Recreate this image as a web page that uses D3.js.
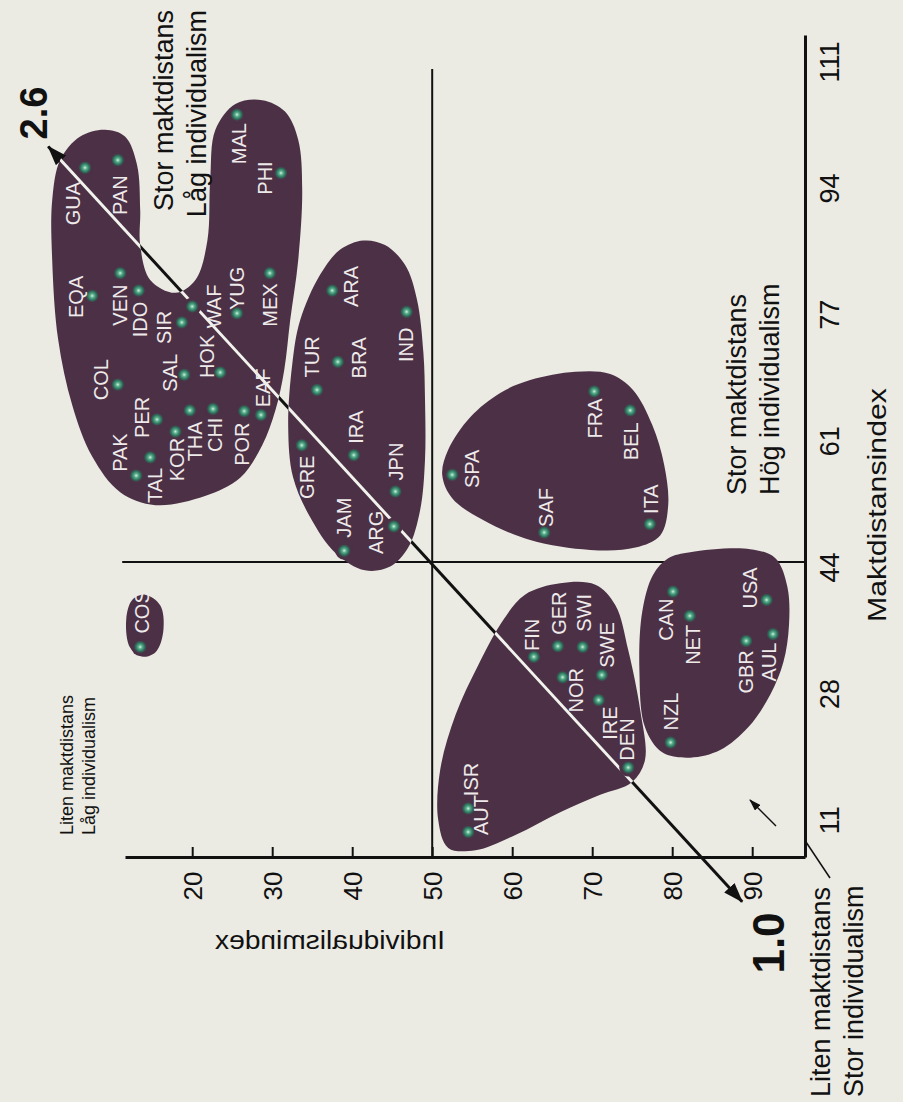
<!DOCTYPE html>
<html>
<head>
<meta charset="utf-8">
<script src="https://cdn.jsdelivr.net/npm/d3@7"></script>
<style>
  body { margin: 0; background: #ebeae3; }
  svg { display: block; }
</style>
</head>
<body>
<svg id="chart" width="903" height="1102"></svg>
<script>
// --- data (individualismindex, maktdistansindex) ---
const countries = ["MAL","PHI","GUA","PAN","EQA","VEN","IDO","SIR","WAF","YUG","MEX","HOK","SAL","COL","PER","PAK","TAL","KOR","THA","CHI","POR","EAF",
                   "ARA","IND","BRA","TUR","GRE","IRA","JPN","ARG","JAM",
                   "SPA","FRA","BEL","SAF","ITA",
                   "FIN","GER","SWI","NOR","SWE","IRE","DEN","ISR","AUT",
                   "CAN","NET","USA","GBR","AUL","NZL","COS"]
const individualism = [25.6,31.1,6.6,10.7,7.5,11,13.3,18.7,20,25.6,29.7,23.5,19,10.7,15.6,13,14.75,17.9,19.7,22.6,26.5,28.6,
                       37.5,46.8,38.2,35.6,33.7,40.2,45.4,45.2,39,
                       52.5,70.25,74.75,64,77.2,
                       62.7,65.7,68.8,66.3,71.2,70.8,74.5,54.5,54.5,
                       80.1,82.2,91.8,89.25,92.6,79.8,13.5]
const maktdistans = [104,96.3,97,98,80.1,83.1,80.8,76.6,78.7,77.8,83.1,70,69.7,68.4,63.8,56.4,58.8,62.2,65,65.2,64.9,64.4,
                     80.8,78,71.4,67.7,60.4,59.1,54.3,49.7,46.5,
                     56.5,67.5,65,48.9,50,
                     32.5,33.9,33.8,29.8,30.1,26.8,17.9,12.5,9.4,
                     41.1,37.9,40,34.6,35.5,21.2,33.8]

// cluster outlines, [individualism, maktdistans]
const clusterLatinAsia = [[3.5,98],[6,101.1],[9.1,102],[11.6,101.1],[13.1,97.4],[13.5,91.4],[13.5,86.8],[14.75,82.2],[17.9,80.5],[20.4,82.2],
                          [21.9,87.4],[22.25,95.4],[22.9,102],[25.4,105.4],[28.75,105.9],[31.6,104.4],[33.25,100.7],[33.75,94.1],[33.25,84.8],
                          [32.25,76.9],[31.5,70.3],[30.4,65],[28.75,60.4],[26,56.1],[21.6,53.7],[15.4,52.5],[11,54.2],[7.5,58.9],[5,65.7],
                          [3.25,74.3],[2.5,84.8],[2.5,92.7]]
const clusterMiddle = [[41.4,87.4],[44.1,86.8],[46.6,84.2],[48.1,79.6],[48.9,72.6],[49.1,66.4],[49.1,58.5],[48.5,51.9],[47,46.9],[44.75,44.4],
                       [41.6,43.9],[37.9,46.2],[34.75,50.9],[32.6,56.2],[32,62.8],[32.5,71],[33.5,76.9],[36,82.9],[38.5,86.2]]
const clusterLatinEurope = [[62.25,69],[67.9,70.1],[72.25,69.8],[75.1,67.7],[77.5,63.1],[79,57.8],[79.5,52.5],[78.5,48.5],[75.4,46.9],[69.75,46.6],
                            [62.25,47.9],[56.25,50.6],[52.5,53.4],[51.25,56.5],[52,59.8],[54.75,64.1],[58.5,67.3]]
const clusterNordic = [[66,42.2],[70.4,42],[72.9,39.3],[74.5,33.4],[76,25.5],[76.6,18.9],[75,16],[71,14.3],[66,12],[60.4,9],[55.4,7],[52,7.3],
                       [50.75,11],[51,17.6],[52.9,24.8],[55.75,31.4],[58.9,37.4],[61.6,40.7]]
const clusterAnglo = [[82.25,46.3],[89.75,46.7],[92.9,45.5],[94.4,41.7],[94.6,36.7],[93.9,31.8],[92.25,27.5],[89.5,23.2],[86,20.2],[82.25,19.2],
                      [78.75,19.9],[76.6,23.2],[75.9,30.7],[76.25,38.4],[77.6,43.3],[79.5,45.5]]
const clusterCos = [[14.1,40.7],[16,39.3],[16.4,36],[15.5,33.2],[13.9,32.5],[12.25,33.7],[11.75,37.4],[12.5,40]]

const diagonal = [[2, 99.8], [88.75, 0.2]]          // 2.6 -> 1.0
const diagonalLabels = ["2.6", "1.0"]

const indivTicks = [20, 30, 40, 50, 60, 70, 80, 90]
const maktTicks = [11, 27.67, 44.33, 61, 77.67, 94.33, 111]
const maktTickLabels = ["11", "28", "44", "61", "77", "94", "111"]
const indivSplit = 50
const maktSplit = 45

// label offsets (px) from dot, in the rotated page
const labelOffset = {
  MAL:[2,29], PHI:[-16,5], GUA:[-12,36], PAN:[2,35], EQA:[-16,1], VEN:[0,32], IDO:[1,29], SIR:[-18,5], WAF:[22,0], YUG:[0,-25],
  MEX:[0,32], HOK:[-13,-16], SAL:[-14,-2], COL:[-17,-5], PER:[-15,-2], PAK:[-16,-23], TAL:[5,28], KOR:[1,28], THA:[5,31], CHI:[2,26],
  POR:[-2,33], EAF:[2,-27], ARA:[19,-4], IND:[-1,33], BRA:[21,-4], TUR:[-5,-33], GRE:[5,32], IRA:[2,-28], JPN:[0,-30], ARG:[-18,6],
  JAM:[0,-33], SPA:[20,-6], FRA:[1,27], BEL:[1,31], SAF:[2,-25], ITA:[1,-25], FIN:[-2,-22], GER:[1,-33], SWI:[1,-34], NOR:[13,13],
  SWE:[5,-30], IRE:[11,23], DEN:[-1,-28], ISR:[3,-29], AUT:[13,-17], CAN:[-7,28], NET:[3,29], USA:[-17,-12], GBR:[0,31], AUL:[-4,28],
  NZL:[0,-31], COS:[2,-35]
}

const blobColor = "#4b3046"
const sans = "'Liberation Sans', Arial, sans-serif"
const narrow = "'Liberation Sans Narrow', 'Liberation Sans', Arial, sans-serif"

// the page is photographed rotated: individualism runs left->right, maktdistans bottom->top
var x = d3.scaleLinear().domain([11.6, 96.6]).range([125, 805])
var y = d3.scaleLinear().domain([6.1, 114.5]).range([857, 35])

var svg = d3.select("#chart")
var defs = svg.append("defs")

var grad = defs.append("radialGradient").attr("id", "dot")
grad.append("stop").attr("offset", "0%").attr("stop-color", "#d4f2e2")
grad.append("stop").attr("offset", "30%").attr("stop-color", "#5cb08f")
grad.append("stop").attr("offset", "70%").attr("stop-color", "#2b6f5a")
grad.append("stop").attr("offset", "100%").attr("stop-color", "#2b6f5a").attr("stop-opacity", 0)

defs.append("marker")
    .attr("id", "arrow")
    .attr("viewBox", "0 0 20 14")
    .attr("refX", 19).attr("refY", 7)
    .attr("markerWidth", 20).attr("markerHeight", 14)
    .attr("markerUnits", "userSpaceOnUse")
    .attr("orient", "auto-start-reverse")
  .append("path").attr("d", "M0,0 L20,7 L0,14 Z").attr("fill", "#111")

defs.append("marker")
    .attr("id", "smallArrow")
    .attr("viewBox", "0 0 12 8")
    .attr("refX", 11).attr("refY", 4)
    .attr("markerWidth", 12).attr("markerHeight", 8)
    .attr("markerUnits", "userSpaceOnUse")
    .attr("orient", "auto")
  .append("path").attr("d", "M0,0 L12,4 L0,8 Z").attr("fill", "#111")

var blobLine = d3.line()
    .x(d => x(d[0]))
    .y(d => y(d[1]))
    .curve(d3.curveCatmullRomClosed.alpha(0.5))

var clusters = [clusterLatinAsia, clusterMiddle, clusterLatinEurope, clusterNordic, clusterAnglo, clusterCos]

// split lines behind the clusters
svg.append("line")
    .attr("x1", x(indivSplit)).attr("x2", x(indivSplit))
    .attr("y1", y(110)).attr("y2", y(6.1))
    .attr("stroke", "#111").attr("stroke-width", 2)
svg.append("line")
    .attr("x1", x(11.25)).attr("x2", x(96.6))
    .attr("y1", y(maktSplit)).attr("y2", y(maktSplit))
    .attr("stroke", "#111").attr("stroke-width", 2)

svg.append("g").selectAll("path")
  .data(clusters)
  .join("path")
    .attr("d", blobLine)
    .attr("fill", blobColor)

var clip = defs.append("clipPath").attr("id", "inside")
clip.selectAll("path").data(clusters).join("path").attr("d", blobLine)

// diagonal axis: black outside, white inside clusters
svg.append("line")
    .attr("x1", x(diagonal[0][0])).attr("y1", y(diagonal[0][1]))
    .attr("x2", x(diagonal[1][0])).attr("y2", y(diagonal[1][1]))
    .attr("stroke", "#111").attr("stroke-width", 3)
    .attr("marker-start", "url(#arrow)").attr("marker-end", "url(#arrow)")
svg.append("line")
    .attr("clip-path", "url(#inside)")
    .attr("x1", x(diagonal[0][0])).attr("y1", y(diagonal[0][1]))
    .attr("x2", x(diagonal[1][0])).attr("y2", y(diagonal[1][1]))
    .attr("stroke", "#f4f2ee").attr("stroke-width", 3)

var pts = countries.map((c, i) => ({ code: c, ind: individualism[i], mak: maktdistans[i] }))

svg.append("g").selectAll("circle")
  .data(pts)
  .join("circle")
    .attr("cx", d => x(d.ind)).attr("cy", d => y(d.mak))
    .attr("r", 9).attr("fill", blobColor)

svg.append("g").selectAll("circle")
  .data(pts)
  .join("circle")
    .attr("cx", d => x(d.ind)).attr("cy", d => y(d.mak))
    .attr("r", 6.5).attr("fill", "url(#dot)")

svg.append("g").selectAll("text")
  .data(pts)
  .join("text")
    .attr("transform", d => {
      const o = labelOffset[d.code]
      return `translate(${x(d.ind) + o[0]},${y(d.mak) + o[1]}) rotate(-90)`
    })
    .attr("text-anchor", "middle")
    .attr("dy", "0.36em")
    .attr("fill", "#eeeaea")
    .attr("font-family", sans)
    .attr("font-size", "20px")
    .text(d => d.code)

// axes
var indivAxis = d3.axisBottom(x)
    .tickValues(indivTicks)
    .tickSizeInner(-10)
    .tickSizeOuter(0)
    .tickPadding(0)

var gx = svg.append("g")
    .attr("transform", "translate(0," + y(6.1) + ")")
    .call(indivAxis)
gx.select(".domain").attr("stroke", "#111").attr("stroke-width", 3)
gx.selectAll(".tick line").attr("stroke", "#111").attr("stroke-width", 2)
gx.selectAll(".tick text")
    .attr("y", null).attr("dy", null)
    .attr("transform", "translate(0,29) rotate(-90)")
    .attr("text-anchor", "middle")
    .attr("dy", "0.36em")
    .attr("font-family", sans)
    .attr("font-size", "26px")
    .attr("fill", "#111")

var maktAxis = d3.axisRight(y)
    .tickValues(maktTicks)
    .tickFormat((d, i) => maktTickLabels[i])
    .tickSize(0)
    .tickPadding(0)

var gy = svg.append("g")
    .attr("transform", "translate(" + x(96.6) + ",0)")
    .call(maktAxis)
gy.select(".domain").attr("stroke", "#111").attr("stroke-width", 3)
gy.selectAll(".tick text")
    .attr("x", null).attr("dy", null)
    .attr("transform", "translate(24,0) rotate(-90)")
    .attr("text-anchor", "middle")
    .attr("dy", "0.36em")
    .attr("font-family", narrow)
    .attr("font-size", "27px")
    .attr("fill", "#111")

// axis titles
svg.append("text")
    .attr("transform", "translate(877,505) rotate(-90)")
    .attr("text-anchor", "middle").attr("dy", "0.36em")
    .attr("font-family", narrow).attr("font-size", "26px").attr("fill", "#111")
    .attr("textLength", 234).attr("lengthAdjust", "spacingAndGlyphs")
    .text("Maktdistansindex")

svg.append("text")
    .attr("transform", "translate(330,940) scale(-1,1)")
    .attr("text-anchor", "middle").attr("dy", "0.36em")
    .attr("font-family", narrow).attr("font-size", "26px").attr("fill", "#111")
    .attr("textLength", 230).attr("lengthAdjust", "spacingAndGlyphs")
    .text("Individualismindex")

// diagonal end labels
svg.append("text")
    .attr("transform", "translate(33,113) rotate(-90)")
    .attr("text-anchor", "middle").attr("dy", "0.36em")
    .attr("font-family", sans).attr("font-weight", "bold").attr("font-size", "38px").attr("fill", "#111")
    .text(diagonalLabels[0])
svg.append("text")
    .attr("transform", "translate(768,943) rotate(-90)")
    .attr("text-anchor", "middle").attr("dy", "0.36em")
    .attr("font-family", sans).attr("font-weight", "bold").attr("font-size", "44px").attr("fill", "#111")
    .text(diagonalLabels[1])

// corner captions
function caption(cx, cy, anchor, size, lines) {
  lines.forEach((t, i) => {
    svg.append("text")
      .attr("transform", `translate(${cx + i * size * 1.22},${cy}) rotate(-90)`)
      .attr("text-anchor", anchor).attr("dy", "0.36em")
      .attr("font-family", sans).attr("font-size", size + "px").attr("fill", "#111")
      .text(t)
  })
}
caption(163, 10, "end", 27, ["Stor maktdistans", "Låg individualism"])
caption(736, 495, "start", 27, ["Stor maktdistans", "Hög individualism"])
caption(67, 835, "start", 18, ["Liten maktdistans", "Låg individualism"])
caption(820, 1097, "start", 27, ["Liten maktdistans", "Stor individualism"])

// pointers in the corner
svg.append("line")
    .attr("x1", 776).attr("y1", 826).attr("x2", 750).attr("y2", 800)
    .attr("stroke", "#111").attr("stroke-width", 1.5)
    .attr("marker-end", "url(#smallArrow)")
svg.append("line")
    .attr("x1", 806).attr("y1", 842).attr("x2", 830).attr("y2", 878)
    .attr("stroke", "#111").attr("stroke-width", 1.5)
</script>
</body>
</html>
